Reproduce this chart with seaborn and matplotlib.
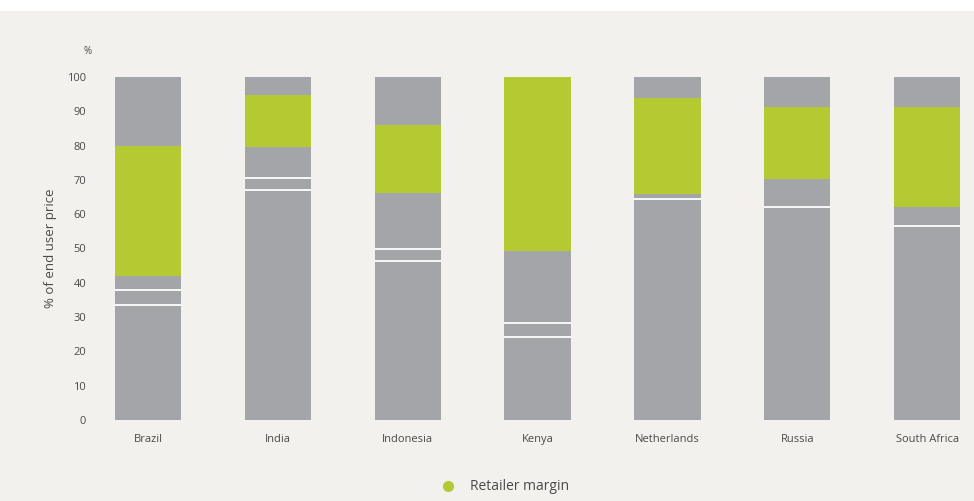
import numpy as np
import pandas as pd
import matplotlib
matplotlib.use("Agg")
import matplotlib.pyplot as plt
from matplotlib.lines import Line2D
from matplotlib.patches import Rectangle
import seaborn as sns

# ----------------------------
# data (% of end user price), segments from bottom to top
# ----------------------------
countries = ['Brazil', 'India', 'Indonesia', 'Kenya', 'Netherlands', 'Russia', 'South Africa']
seg_a = [33.5, 67.0, 46.5, 24.3, 64.5, 62.2, 56.7]
seg_b = [4.4, 3.6, 3.5, 3.9, 0.0, 0.0, 0.0]
seg_c = [4.1, 9.1, 16.1, 21.0, 1.5, 8.1, 5.5]
retailer_margin = [38.0, 15.1, 19.9, 50.8, 27.8, 20.9, 29.1]
seg_d = [20.0, 5.2, 14.0, 0.0, 6.2, 8.8, 8.7]
y_ticks = [0, 10, 20, 30, 40, 50, 60, 70, 80, 90, 100]

GREY = '#a4a5a8'
GREEN = '#b5c932'
BG = '#f3f1ee'
TXT = '#4a4a4a'
BAR_W = 0.51

df = pd.DataFrame({'country': countries, 'a': seg_a, 'b': seg_b, 'c': seg_c,
                   'margin': retailer_margin, 'd': seg_d})
layers = ['a', 'b', 'c', 'margin', 'd']
cum = df[layers].cumsum(axis=1)

sns.set_style('white')
plt.rcParams['font.family'] = ['Open Sans', 'DejaVu Sans']

fig = plt.figure(figsize=(9.74, 5.01), dpi=100, facecolor=BG)
fig.patches.append(Rectangle((0, 1 - 11 / 501), 1, 11 / 501, transform=fig.transFigure,
                             facecolor='white', edgecolor='none', zorder=0))
ax = fig.add_axes([100 / 974, 81 / 501, 874 / 974, 343 / 501])
ax.set_facecolor(BG)

# draw cumulative tops, top layer first so lower layers sit on top
for layer in reversed(layers):
    sns.barplot(x=df['country'], y=cum[layer], color=GREEN if layer == 'margin' else GREY,
                width=BAR_W, saturation=1, ax=ax, order=countries,
                linewidth=0, edgecolor='none')

# white separators between the lower grey components
for i, row in cum.iterrows():
    ax.hlines(row['a'], i - BAR_W / 2, i + BAR_W / 2, color='white', linewidth=1.3, zorder=5)
    if df.loc[i, 'b'] > 0:
        ax.hlines(row['b'], i - BAR_W / 2, i + BAR_W / 2, color='white', linewidth=1.3, zorder=5)

ax.set_xlim(-0.369, 6.36)
ax.set_ylim(0, 100)
ax.set_yticks(y_ticks)
ax.tick_params(axis='both', length=0, labelsize=8, colors=TXT)
ax.tick_params(axis='y', pad=10)
ax.tick_params(axis='x', pad=10)
ax.set_xlabel('')
ax.set_ylabel('% of end user price', fontsize=9.5, color=TXT, labelpad=7)
for s in ax.spines.values():
    s.set_visible(False)

fig.text(88 / 974, 1 - 52 / 501, '%', fontsize=7, color=TXT, ha='center', va='center')

handle = Line2D([], [], marker='o', linestyle='', markersize=7,
                markerfacecolor=GREEN, markeredgecolor=GREEN)
fig.legend([handle], ['Retailer margin'], loc='center', bbox_to_anchor=(0.515, 0.028),
           frameon=False, fontsize=10, handletextpad=0.6, labelcolor=TXT)

fig.savefig('out.png', dpi=100, facecolor=BG)
